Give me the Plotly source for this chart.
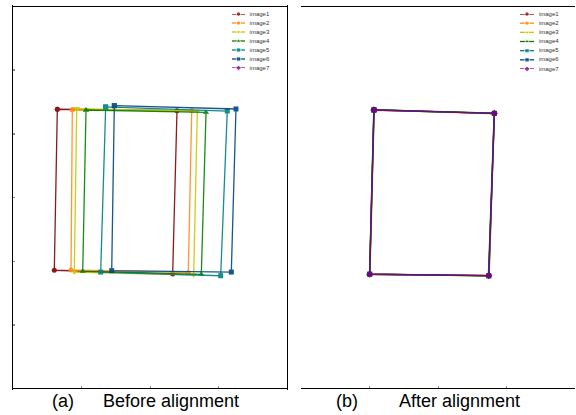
import plotly.graph_objects as go

W, H = 576, 415

names = ["image1", "image2", "image3", "image4", "image5", "image6", "image7"]
colors = ["#800000", "#FF8C1A", "#C8C800", "#008000", "#008080", "#00457F", "#800080"]
symbols = ["circle", "circle", "triangle-down", "triangle-up", "square", "square", "diamond"]

# corners (TL, TR, BR, BL) in image pixel coordinates
before_x = {
    "image1": [647, 2394, 2331, 603],
    "image2": [866, 2609, 2559, 847],
    "image3": [930, 2691, 2638, 895],
    "image4": [1066, 2818, 2749, 1018],
    "image5": [1353, 3128, 3032, 1280],
    "image6": [1479, 3255, 3187, 1441],
}
before_y = {
    "image1": [805, 817, 2102, 2073],
    "image2": [809, 817, 2092, 2071],
    "image3": [801, 821, 2110, 2087],
    "image4": [811, 829, 2105, 2081],
    "image5": [787, 819, 2116, 2087],
    "image6": [777, 803, 2087, 2076],
}
after_x = {
    "image1": [1064, 2824, 2745, 1001],
    "image2": [1068, 2826, 2738, 1005],
    "image3": [1070, 2818, 2748, 1008],
    "image4": [1062, 2820, 2735, 1000],
    "image5": [1066, 2822, 2742, 1004],
    "image6": [1065, 2823, 2741, 1002],
    "image7": [1066, 2822, 2740, 1003],
}
after_y = {
    "image1": [816, 846, 2110, 2096],
    "image2": [820, 842, 2106, 2100],
    "image3": [818, 848, 2112, 2097],
    "image4": [815, 843, 2108, 2099],
    "image5": [819, 845, 2111, 2098],
    "image6": [817, 844, 2109, 2097],
    "image7": [818, 844, 2109, 2098],
}

x_ticks = [1000, 2000, 3000]
y_ticks = [500, 1000, 1500, 2000, 2500]
captions = [("(a)", "Before alignment"), ("(b)", "After alignment")]

FONT = "Liberation Sans, Arial, sans-serif"


def px_x(p):
    return p / W


def px_y(p):
    return 1 - p / H


fig = go.Figure()

panels = [
    dict(xa="x", ya="y", data=(before_x, before_y)),
    dict(xa="x2", ya="y2", data=(after_x, after_y)),
]

for pi, pan in enumerate(panels):
    dx, dy = pan["data"]
    for name, col, sym in zip(names, colors, symbols):
        if name not in dx:
            continue
        xs = dx[name] + dx[name][:1]
        ys = dy[name] + dy[name][:1]
        fig.add_trace(go.Scatter(
            x=xs, y=ys, mode="lines+markers", name=name,
            line=dict(color=col, width=1.3),
            marker=dict(symbol=sym, size=5.5 if "triangle" in sym or sym == "diamond" else 5, color=col),
            opacity=0.9,
            xaxis=pan["xa"], yaxis=pan["ya"], showlegend=False, cliponaxis=False,
        ))

# manual compact legends (line segment spans 0..1, text from 1.35)
legend_axes = [("x3", "y3"), ("x4", "y4")]
for (lxa, lya) in legend_axes:
    for i, (name, col, sym) in enumerate(zip(names, colors, symbols)):
        fig.add_trace(go.Scatter(
            x=[0, 0.5, 1], y=[i, i, i], mode="lines+markers",
            line=dict(color=col, width=1.3),
            marker=dict(symbol=sym, size=[0, 4.5, 0], color=col),
            xaxis=lxa, yaxis=lya, showlegend=False, cliponaxis=False, hoverinfo="skip",
        ))
    fig.add_trace(go.Scatter(
        x=[1.35] * len(names), y=list(range(len(names))), mode="text", text=names,
        textposition="middle right", textfont=dict(size=6, color="#333333", family=FONT),
        xaxis=lxa, yaxis=lya, showlegend=False, cliponaxis=False, hoverinfo="skip",
    ))

axis_common = dict(
    showgrid=False, zeroline=False, showticklabels=False,
    ticks="inside", ticklen=2, tickcolor="#888888", tickwidth=1,
    showline=True, linecolor="black", linewidth=1.2, mirror=True,
)

layout = dict(
    width=W, height=H,
    margin=dict(l=0, r=0, t=0, b=0),
    paper_bgcolor="white", plot_bgcolor="white",
    font=dict(family=FONT),
    xaxis=dict(domain=[px_x(13), px_x(287)], range=[0, 4000], tickvals=x_ticks, **axis_common),
    yaxis=dict(domain=[px_y(388), px_y(7)], range=[3000, 0], tickvals=y_ticks, **axis_common),
    xaxis2=dict(domain=[px_x(301), px_x(575)], range=[0, 4000], tickvals=x_ticks, **axis_common),
    yaxis2=dict(domain=[px_y(390), px_y(5)], range=[3000, 0], tickvals=y_ticks, **axis_common),
    xaxis3=dict(domain=[px_x(232), px_x(271)], range=[0, 3], visible=False, fixedrange=True),
    yaxis3=dict(domain=[px_y(68), px_y(14)], range=[6, 0], visible=False, fixedrange=True),
    xaxis4=dict(domain=[px_x(520), px_x(562)], range=[0, 3], visible=False, fixedrange=True),
    yaxis4=dict(domain=[px_y(69), px_y(14)], range=[6, 0], visible=False, fixedrange=True),
)
fig.update_layout(**layout)

cap_pos = [(63, 171), (347, 459)]
for (lab, txt), (cx1, cx2) in zip(captions, cap_pos):
    for t, cx in ((lab, cx1), (txt, cx2)):
        fig.add_annotation(
            x=px_x(cx), y=px_y(401), xref="paper", yref="paper", text=t,
            showarrow=False, xanchor="center", yanchor="middle",
            font=dict(size=18, color="black", family=FONT),
        )

fig.write_html(
    "out.html",
    config={"displayModeBar": False, "staticPlot": True},
    post_script="document.body.style.margin='0';document.body.style.overflow='hidden';",
)
